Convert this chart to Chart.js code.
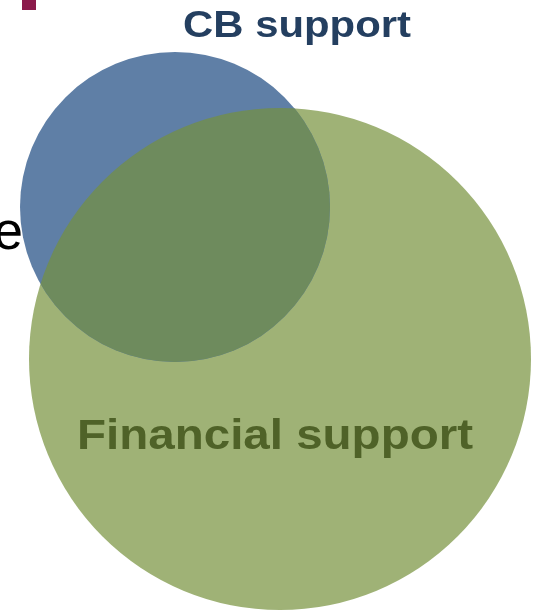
<!DOCTYPE html>
<html>
<head>
<meta charset="utf-8">
<script src="https://cdn.jsdelivr.net/npm/chart.js@4.4.0/dist/chart.umd.min.js"></script>
<style>
  html, body { margin: 0; padding: 0; background: #fff; }
  #wrap { width: 541px; height: 613px; }
</style>
</head>
<body>
<div id="wrap"><canvas id="venn"></canvas></div>
<script>
// Venn sets (centres and radii in chart units, 1 unit = 1px)
const setNames = ["CB support", "Financial support"];
const centerX = [175, 280];
const centerY = [207, 359];
const radius = [155, 251];

const setColors = ["#5f7fa6", "#9fb276"];
const overlapColor = "#6e8b5d";

// draw text centred at (x, y) stretched to a given width
function wideText(ctx, text, x, y, width) {
    const w = ctx.measureText(text).width;
    ctx.save();
    ctx.translate(x, y);
    ctx.scale(width / w, 1);
    ctx.textAlign = "center";
    ctx.fillText(text, 0, 0);
    ctx.restore();
}

// ------------------ overlap + labels ------------------
const vennExtras = {
    id: "vennExtras",
    afterDatasetsDraw(chart) {
        const ctx = chart.ctx;
        const a = chart.getDatasetMeta(0).data[0];
        const b = chart.getDatasetMeta(1).data[0];
        const xs = chart.scales.x, ys = chart.scales.y;

        // intersection of the two circles
        ctx.save();
        ctx.beginPath();
        ctx.arc(b.x, b.y, b.options.radius, 0, Math.PI * 2);
        ctx.clip();
        ctx.beginPath();
        ctx.arc(a.x, a.y, a.options.radius, 0, Math.PI * 2);
        ctx.fillStyle = overlapColor;
        ctx.fill();
        ctx.restore();

        // labels
        ctx.save();
        ctx.textBaseline = "alphabetic";
        ctx.font = "bold 37px 'Liberation Sans', Arial, sans-serif";
        ctx.fillStyle = "#243f60";
        wideText(ctx, setNames[0], xs.getPixelForValue(297), ys.getPixelForValue(37), 228);
        ctx.font = "bold 43px 'Liberation Sans', Arial, sans-serif";
        ctx.fillStyle = "#4f6228";
        wideText(ctx, setNames[1], xs.getPixelForValue(275), ys.getPixelForValue(449), 396);

        // cut-off text at the left and slide marker
        ctx.textAlign = "right";
        ctx.font = "53px 'Liberation Sans', Arial, sans-serif";
        ctx.fillStyle = "#000";
        ctx.fillText("e", xs.getPixelForValue(23), ys.getPixelForValue(249));
        ctx.fillStyle = "#8b1a4b";
        ctx.fillRect(xs.getPixelForValue(22), ys.getPixelForValue(0), 14, 10);
        ctx.restore();
    }
};

new Chart(document.getElementById("venn"), {
    type: "bubble",
    data: {
        datasets: setNames.map((name, i) => ({
            label: name,
            data: [{ x: centerX[i], y: centerY[i], r: radius[i] }],
            backgroundColor: setColors[i],
            borderWidth: 0,
            hoverBorderWidth: 0,
            clip: false
        }))
    },
    options: {
        responsive: true,
        maintainAspectRatio: false,
        animation: false,
        layout: { padding: 0, autoPadding: false },
        events: [],
        plugins: {
            legend: { display: false },
            tooltip: { enabled: false }
        },
        scales: {
            x: { type: "linear", min: 0, max: 541, display: false },
            y: { type: "linear", min: 0, max: 613, reverse: true, display: false }
        }
    },
    plugins: [vennExtras]
});
</script>
</body>
</html>
